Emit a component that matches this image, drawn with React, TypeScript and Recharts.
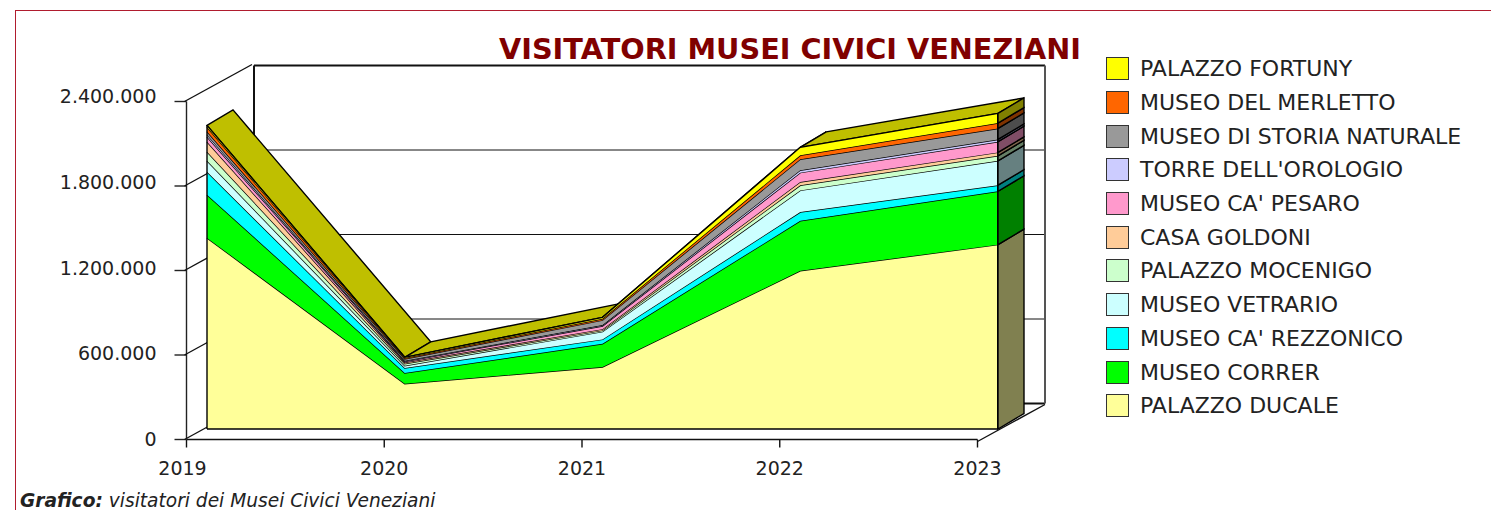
import { AreaChart, Area, XAxis, YAxis, CartesianGrid, ReferenceLine, Legend } from 'recharts';

const years = ['2019', '2020', '2021', '2022', '2023'];
const yTicks = [0, 600000, 1200000, 1800000, 2400000];

const palazzoDucale = [1357000, 321000, 440000, 1123000, 1309000];
const museoCorrer = [307000, 77000, 165000, 355000, 379000];
const caRezzonico = [162000, 35000, 31000, 62000, 43000];
const museoVetrario = [78000, 17000, 55000, 154000, 173000];
const palazzoMocenigo = [64000, 14000, 9000, 36000, 36000];
const casaGoldoni = [72000, 9000, 9000, 24000, 24000];
const caPesaro = [35000, 7000, 22000, 66000, 76000];
const torreOrologio = [15000, 5000, 7000, 17000, 16000];
const storiaNaturale = [23000, 12000, 35000, 78000, 78000];
const museoMerletto = [31000, 7000, 10000, 28000, 38000];
const palazzoFortuny = [12000, 5000, 10000, 57000, 69000];

const series = [
  { key: 'ducale', name: 'PALAZZO DUCALE', values: palazzoDucale, fill: '#FFFF99', side: '#808050' },
  { key: 'correr', name: 'MUSEO CORRER', values: museoCorrer, fill: '#00FF00', side: '#008000' },
  { key: 'rezzonico', name: "MUSEO CA' REZZONICO", values: caRezzonico, fill: '#00FFFF', side: '#008080' },
  { key: 'vetrario', name: 'MUSEO VETRARIO', values: museoVetrario, fill: '#CCFFFF', side: '#668080' },
  { key: 'mocenigo', name: 'PALAZZO MOCENIGO', values: palazzoMocenigo, fill: '#CCFFCC', side: '#668066' },
  { key: 'goldoni', name: 'CASA GOLDONI', values: casaGoldoni, fill: '#FFCC99', side: '#80664D' },
  { key: 'pesaro', name: "MUSEO CA' PESARO", values: caPesaro, fill: '#FF99CC', side: '#804D66' },
  { key: 'torre', name: "TORRE DELL'OROLOGIO", values: torreOrologio, fill: '#CCCCFF', side: '#666680' },
  { key: 'storia', name: 'MUSEO DI STORIA NATURALE', values: storiaNaturale, fill: '#999999', side: '#4D4D4D' },
  { key: 'merletto', name: 'MUSEO DEL MERLETTO', values: museoMerletto, fill: '#FF6600', side: '#803300' },
  { key: 'fortuny', name: 'PALAZZO FORTUNY', values: palazzoFortuny, fill: '#FFFF00', side: '#808000' },
];

const rows = years.map((year, i) => {
  const row: any = { year, total: 0 };
  series.forEach(s => {
    row[s.key] = s.values[i];
    row.total += s.values[i];
  });
  return row;
});

const W = 1491;
const H = 510;
const PLOT_W = 791;
const PLOT_H = 338;
const MAX = 2400000;
const FONT = '"DejaVu Sans", Verdana, sans-serif';
const TEXT = '#222';
const EDGE = 1.4;

// the chart is three planes: back wall, front axes, and the areas sitting between them
const WALL = { x: 254, y: 65.5, dx: 67.5, dy: -37 };
const DEPTH = { dx: 26, dy: -15.5 };

const margins = (left: number, top: number, axisW = 0, axisH = 0) => ({
  left: left - axisW,
  top,
  right: W - left - PLOT_W,
  bottom: H - top - PLOT_H - axisH,
});

const poly = (pts: number[][]) => pts.map(p => p.join(',')).join(' ');

const YTick = ({ x, y, payload }: any) => {
  const axisX = x + 12;
  const v = payload.value;
  return (
    <g>
      <line x1={axisX} y1={y} x2={axisX + WALL.dx} y2={y + WALL.dy} stroke="#111" strokeWidth={EDGE} />
      <text x={axisX - 28} y={y - (5.5 * v) / MAX} dy="0.36em" textAnchor="end" fontFamily={FONT} fontSize={19} fill={TEXT}>
        {v.toLocaleString('de-DE')}
      </text>
    </g>
  );
};

const XTick = ({ x, y, payload, index }: any) => (
  <g>
    {index === years.length - 1 && (
      <line x1={x} y1={y - 8} x2={x + WALL.dx} y2={y - 8 + WALL.dy} stroke="#111" strokeWidth={EDGE} />
    )}
    <text x={index === 0 ? x - 4 : x} y={y + 25} textAnchor="middle" fontFamily={FONT} fontSize={19} fill={TEXT}>
      {payload.value}
    </text>
  </g>
);

// top face of the stack, one strip per segment
const topFace = ({ index, points }: any) => {
  if (index !== 0) return <g key={index} />;
  return (
    <g key={index}>
      {points.slice(0, -1).map((p: any, i: number) => {
        const n = points[i + 1];
        return (
          <polygon
            key={i}
            points={poly([
              [p.x, p.y],
              [p.x + DEPTH.dx, p.y + DEPTH.dy],
              [n.x + DEPTH.dx, n.y + DEPTH.dy],
              [n.x, n.y],
            ])}
            fill="#BFBF00"
            stroke="#000"
            strokeWidth={EDGE}
          />
        );
      })}
    </g>
  );
};

// darker side face at the last year, scale read from the points the Area computed
const sideFace = (fill: string) => ({ index, cx, cy, points }: any) => {
  if (index !== points.length - 1) return <g key={index} />;
  const last = points[points.length - 1];
  const low2020 = points[1];
  const pxPerUnit = (low2020.y - last.y) / (last.value[1] - low2020.value[1]);
  const low = cy + (last.value[1] - last.value[0]) * pxPerUnit;
  return (
    <polygon
      key={index}
      points={poly([
        [cx, cy],
        [cx + DEPTH.dx, cy + DEPTH.dy],
        [cx + DEPTH.dx, low + DEPTH.dy],
        [cx, low],
      ])}
      fill={fill}
      stroke="#000"
      strokeWidth={EDGE}
    />
  );
};

const LegendBox = () => (
  <div style={{ fontFamily: FONT, fontSize: 22, color: TEXT }}>
    {[...series].reverse().map(s => (
      <div key={s.key} style={{ display: 'flex', alignItems: 'center', height: 33.7 }}>
        <span style={{ width: 21, height: 21, background: s.fill, border: '1.5px solid #333', marginRight: 11 }} />
        <span style={{ whiteSpace: 'nowrap' }}>{s.name}</span>
      </div>
    ))}
  </div>
);

const layer: React.CSSProperties = { position: 'absolute', left: 0, top: 0 };

export default function App() {
  return (
    <div style={{ position: 'absolute', left: 0, top: 0, width: W, height: H, overflow: 'hidden', background: '#fff' }}>
      <div style={{ position: 'absolute', left: 15, top: 10, right: 0, bottom: 0, borderTop: '1px solid #B01C2E', borderLeft: '1px solid #B01C2E' }} />

      {/* back wall */}
      <div style={layer}>
        <AreaChart width={W} height={H} data={rows} margin={margins(WALL.x, WALL.y)}>
          <XAxis dataKey="year" hide />
          <YAxis hide domain={[0, MAX]} ticks={yTicks} />
          <CartesianGrid vertical={false} stroke="#111" strokeWidth={1} />
          <Area dataKey="total" fill="none" stroke="none" isAnimationActive={false} />
          <ReferenceLine y={MAX} stroke="#111" strokeWidth={2} />
          <ReferenceLine y={0} stroke="#111" strokeWidth={2} />
          <ReferenceLine x="2019" stroke="#111" strokeWidth={2} />
          <ReferenceLine x="2023" stroke="#555" strokeWidth={2} />
        </AreaChart>
      </div>

      {/* front axes */}
      <div style={layer}>
        <AreaChart width={W} height={H} data={rows} margin={margins(186.5, 101.5, 60, 30)}>
          <XAxis dataKey="year" height={30} interval={0} tickSize={8} stroke="#111" strokeWidth={EDGE} tick={<XTick />} />
          <YAxis width={60} domain={[0, MAX]} ticks={yTicks} interval={0} tickSize={12} stroke="#222" strokeWidth={EDGE} tick={<YTick />} />
          <Area dataKey="total" fill="none" stroke="none" isAnimationActive={false} />
        </AreaChart>
      </div>

      {/* top face goes under the front so the rising segment hides it */}
      <div style={layer}>
        <AreaChart width={W} height={H} data={rows} margin={margins(207, 91)}>
          <XAxis dataKey="year" hide />
          <YAxis hide domain={[0, MAX]} />
          <Area dataKey="total" fill="none" stroke="none" dot={topFace} isAnimationActive={false} />
        </AreaChart>
      </div>

      {/* stacked areas */}
      <div style={layer}>
        <AreaChart width={W} height={H} data={rows} margin={margins(207, 91)}>
          <XAxis dataKey="year" hide />
          <YAxis hide domain={[0, MAX]} />
          <Legend
            layout="vertical"
            align="center"
            verticalAlign="middle"
            content={<LegendBox />}
            wrapperStyle={{ left: 1106, top: 52, width: 380 }}
          />
          {series.map(s => (
            <Area
              key={s.key}
              dataKey={s.key}
              name={s.name}
              stackId="musei"
              fill={s.fill}
              fillOpacity={1}
              stroke="#000"
              strokeWidth={EDGE}
              dot={sideFace(s.side)}
              isAnimationActive={false}
            />
          ))}
          <ReferenceLine y={0} stroke="#000" strokeWidth={EDGE} />
          <ReferenceLine segment={[{ x: '2019', y: 0 }, { x: '2019', y: rows[0].total }]} stroke="#000" strokeWidth={EDGE} />
          <ReferenceLine segment={[{ x: '2023', y: 0 }, { x: '2023', y: rows[4].total }]} stroke="#000" strokeWidth={2} />
          <text x={790} y={59} textAnchor="middle" fontFamily={FONT} fontSize={28} fontWeight="bold" fill="#800000" textLength={582} lengthAdjust="spacingAndGlyphs">
            VISITATORI MUSEI CIVICI VENEZIANI
          </text>
        </AreaChart>
      </div>

      <div style={{ position: 'absolute', left: 20, top: 492, lineHeight: '18px', fontFamily: FONT, fontSize: 18.6, fontStyle: 'italic', color: TEXT, whiteSpace: 'nowrap' }}>
        <b>Grafico:</b> visitatori dei Musei Civici Veneziani
      </div>
    </div>
  );
}
